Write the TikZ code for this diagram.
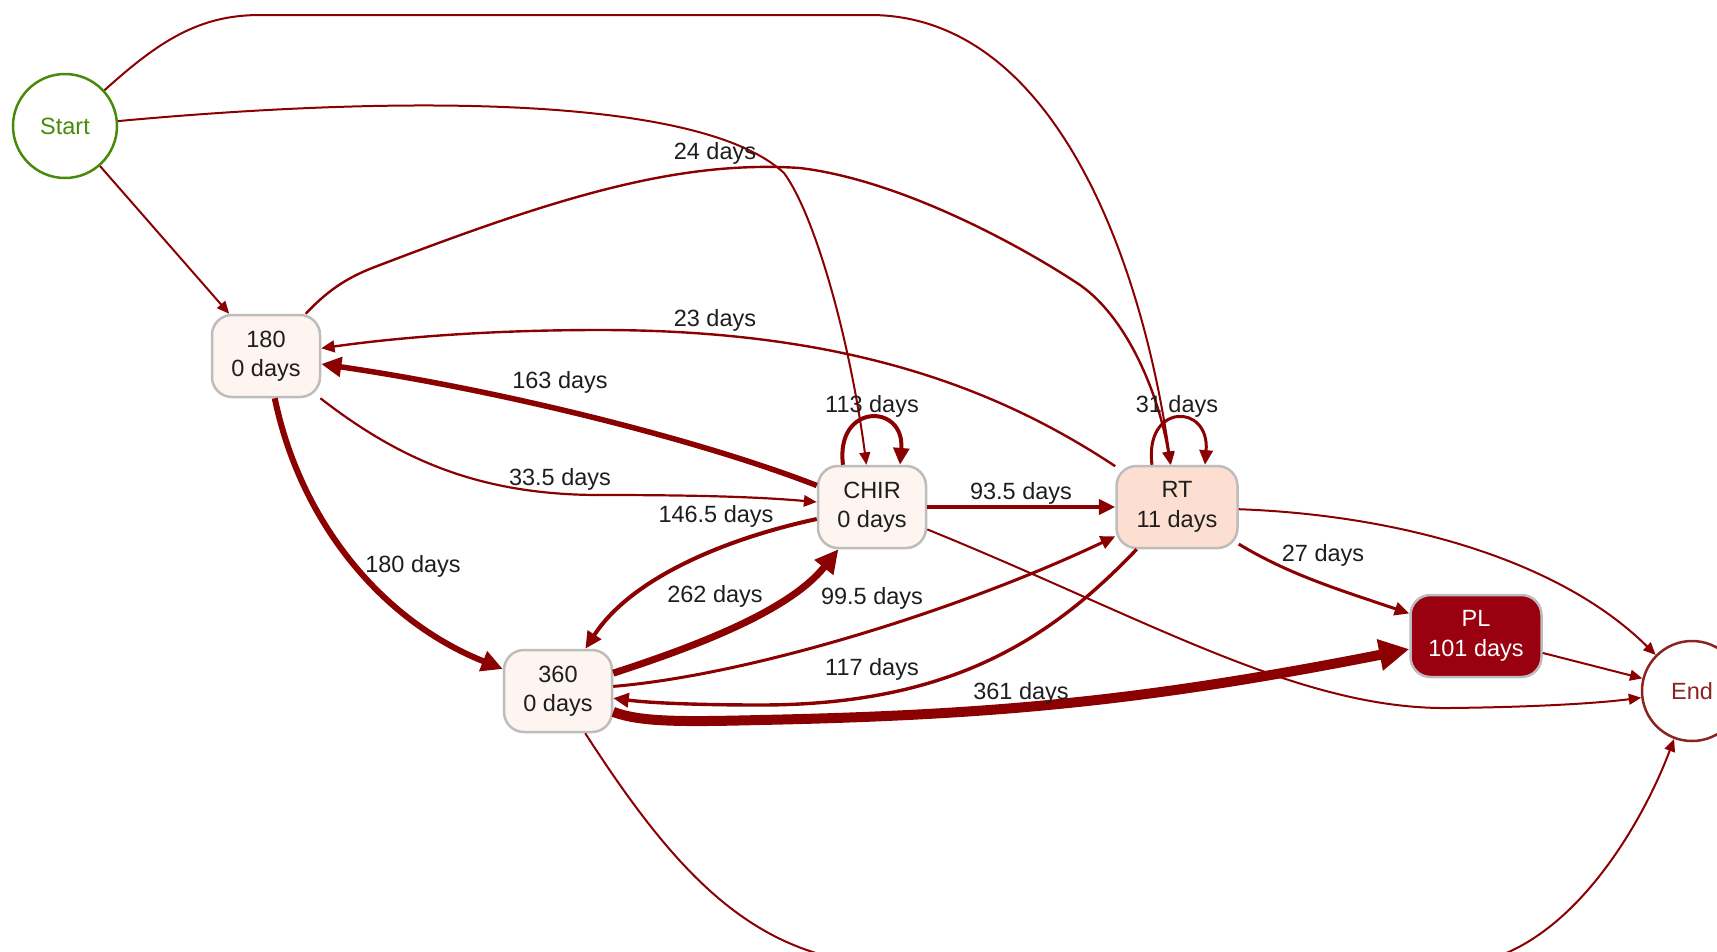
\documentclass[tikz,border=0pt]{standalone}
\usepackage{fontspec}
\setmainfont{Liberation Sans}
\usetikzlibrary{arrows.meta}
\definecolor{edgered}{HTML}{8B0000}
\definecolor{boxgrey}{HTML}{BDBDBD}
\definecolor{palered}{HTML}{FEF4F0}
\definecolor{rtfill}{HTML}{FDDFD1}
\definecolor{plfill}{HTML}{990010}
\definecolor{startgreen}{HTML}{4A8A0A}
\definecolor{endbrown}{HTML}{8B2323}
\definecolor{txt}{HTML}{1E1E1E}
\tikzset{>={Triangle[length=8pt 2.2,width=6pt 2.4]},
  every node/.style={font=\fontsize{23.5}{29.5}\selectfont},
  box/.style={draw=boxgrey, line width=2.5pt, rounded corners=20pt, fill=palered,
    text=txt, align=center, minimum width=108pt, minimum height=82pt},
  lbl/.style={text=txt},
  ed/.style={draw=edgered, line width=#1, ->}}

\begin{document}
\begin{tikzpicture}[x=1pt,y=-1pt]
\useasboundingbox (0,0) rectangle (1717,951);
\clip (0,0) rectangle (1717,951);
\fill[white] (0,0) rectangle (1717,951);

\node[circle, draw=startgreen, text=startgreen, line width=2.5pt, minimum size=104pt] (start) at (65,126) {Start};
\node[box] (n180) at (266,356) {180\\0 days};
\node[box] (chir) at (872,507) {CHIR\\0 days};
\node[box, fill=rtfill, minimum width=121pt] (rt) at (1177,507) {RT\\11 days};
\node[box] (n360) at (558,691) {360\\0 days};
\node[box, fill=plfill, text=white, minimum width=131pt] (pl) at (1476,636) {PL\\101 days};
\node[circle, draw=endbrown, text=endbrown, line width=2.5pt, minimum size=100pt] (end) at (1692,691) {End};

\draw[ed=2pt] (start) -- (n180);
\draw[ed=2pt] (start) .. controls (400,95) and (700,95) .. (784,173) .. controls (815,215) and (850,340) .. (chir);
\draw[ed=2pt] (start) .. controls (160,40) and (200,15) .. (260,15) -- (870,15) .. controls (1050,15) and (1140,250) .. (rt);
\draw[ed=2.4pt] (n180) .. controls (330,288) and (350,276) .. (380,265) .. controls (560,196) and (680,160) .. (800,168)
  .. controls (900,180) and (1020,245) .. (1080,285) .. controls (1130,320) and (1160,400) .. (rt);
\draw[ed=2.4pt] (rt) .. controls (1000,390) and (850,330) .. (600,330) .. controls (470,330) and (380,340) .. (n180);
\draw[ed=5.5pt] (chir) .. controls (700,440) and (500,390) .. (n180);
\draw[ed=2.2pt] (n180) .. controls (400,460) and (480,495) .. (600,495) .. controls (700,495) and (760,497) .. (chir);
\draw[ed=4pt] ([xshift=-29pt]chir.north) .. controls +(-8,-62) and +(5,-62) .. ([xshift=28pt]chir.north);
\draw[ed=3.8pt] (chir) -- (rt);
\draw[ed=4pt] (chir) .. controls (720,540) and (630,580) .. (n360);
\draw[ed=7pt] (n360) .. controls (700,645) and (790,610) .. (chir);
\draw[ed=6pt] (n180) .. controls (300,520) and (380,620) .. (n360);
\draw[ed=3pt] (n360) .. controls (750,675) and (960,610) .. (rt);
\draw[ed=3.4pt] (rt) .. controls (1050,640) and (950,705) .. (760,705) .. controls (700,705) and (650,703) .. (n360);
\draw[ed=10pt] (n360) .. controls (640,722) and (680,722) .. (760,720) .. controls (1000,715) and (1150,700) .. (pl);
\draw[ed=3pt] ([xshift=-25pt]rt.north) .. controls +(-8,-62) and +(5,-62) .. ([xshift=28pt]rt.north);
\draw[ed=3pt] (rt) .. controls (1290,575) and (1340,590) .. (pl);
\draw[ed=2pt] (rt) .. controls (1400,515) and (1560,560) .. (end);
\draw[ed=2pt] (pl) -- (end);
\draw[ed=2pt] (chir) .. controls (1150,620) and (1300,710) .. (1450,708) .. controls (1540,707) and (1600,703) .. (end);
\draw[ed=2pt] (n360) .. controls (680,880) and (760,965) .. (900,965) -- (1450,965) .. controls (1560,965) and (1640,830) .. (end);

\node[lbl] (l24) at (715,153) {24 days};
\node[lbl] (l23) at (715,320) {23 days};
\node[lbl] (l163) at (560,382) {163 days};
\node[lbl] (l113) at (872,406) {113 days};
\node[lbl] (l31) at (1177,406) {31 days};
\node[lbl] (l335) at (560,479) {33.5 days};
\node[lbl] (l935) at (1021,493) {93.5 days};
\node[lbl] (l1465) at (716,516) {146.5 days};
\node[lbl] (l27) at (1323,555) {27 days};
\node[lbl] (l180) at (413,566) {180 days};
\node[lbl] (l262) at (715,596) {262 days};
\node[lbl] (l995) at (872,598) {99.5 days};
\node[lbl] (l117) at (872,669) {117 days};
\node[lbl] (l361) at (1021,693) {361 days};
\end{tikzpicture}
\end{document}
